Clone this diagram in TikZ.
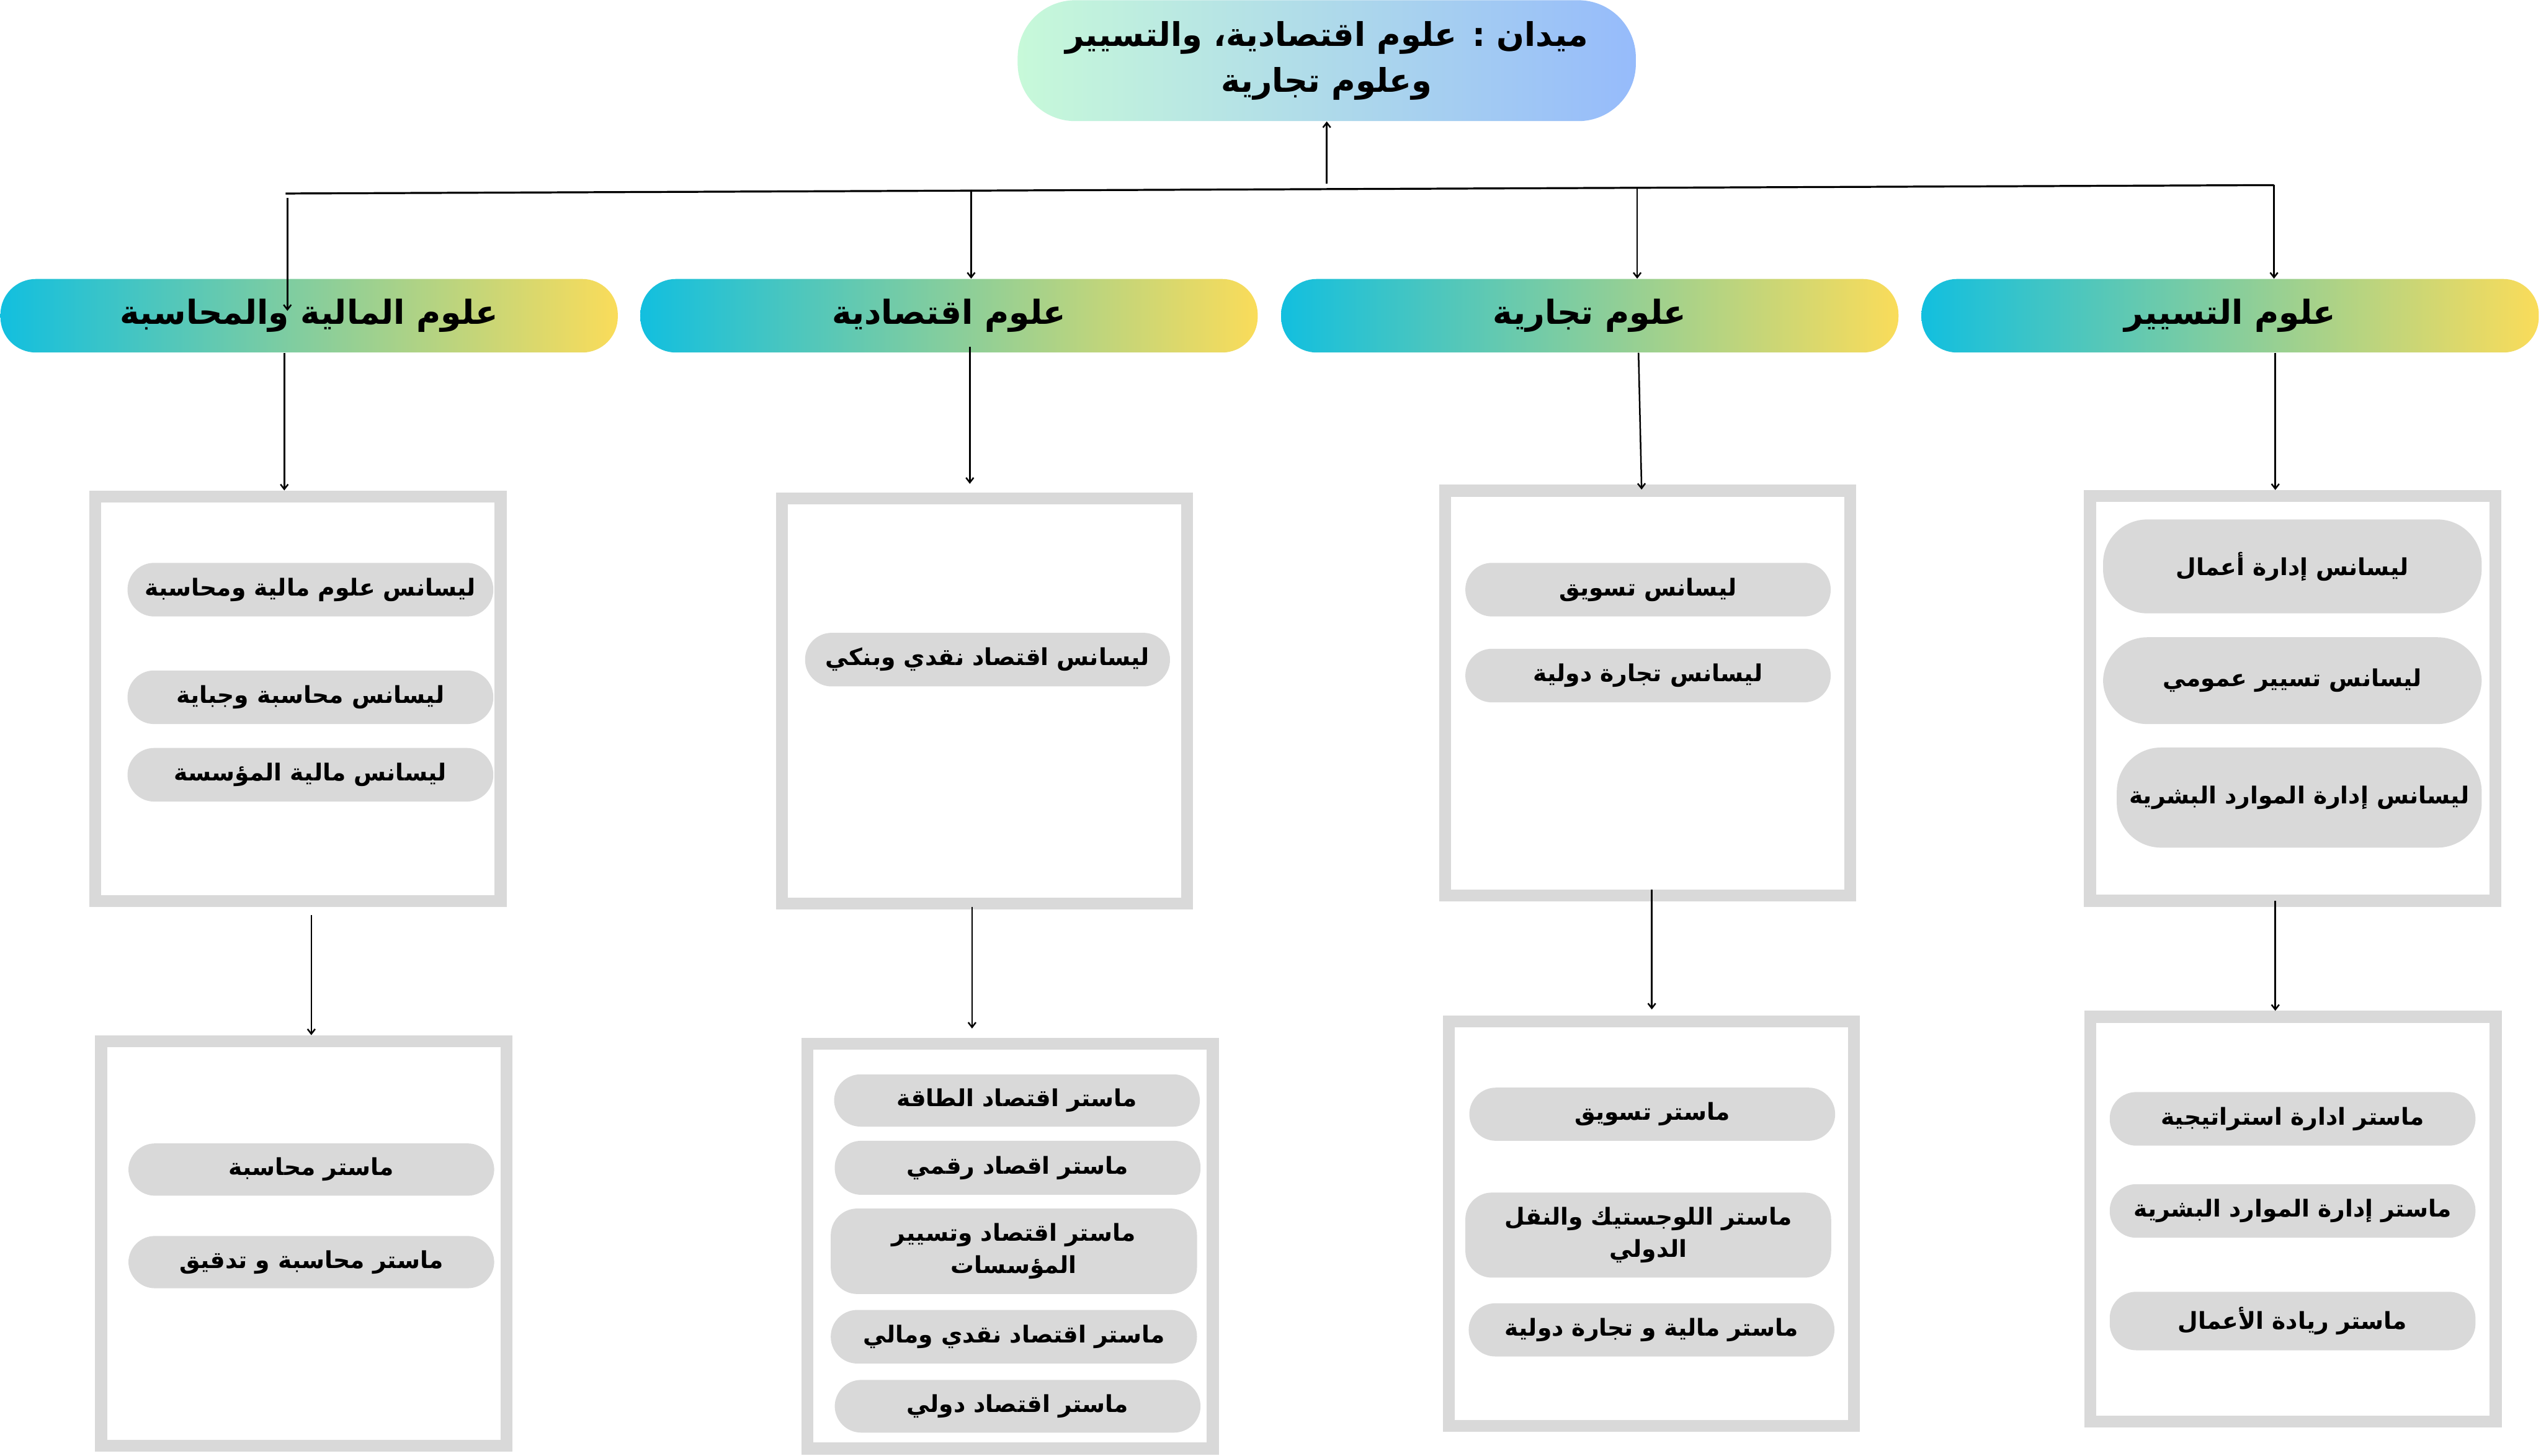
\documentclass[tikz,border=0pt]{standalone}
\usepackage{fontspec}
\usepackage{xcolor}
\newfontfamily\arabicfont[Script=Arabic]{DejaVu Sans}
\TeXXeTstate=1
\usetikzlibrary{arrows.meta,positioning,calc}

\definecolor{mintL}{HTML}{C7F9D9}
\definecolor{blueR}{HTML}{96BBFB}
\definecolor{cyanL}{HTML}{12BFDF}
\definecolor{yellowR}{HTML}{FADC5A}
\definecolor{frameGray}{HTML}{D9D9D9}

\newcommand{\artext}[1]{\beginR #1\endR}

\begin{document}
\begin{tikzpicture}[
        >={Straight Barb[length=0.11cm,width=0.17cm]},
        % top field and the four branch headers
        field_node/.style={rounded corners=1.3cm, left color=mintL, right color=blueR, minimum width=13.96cm, minimum height=2.73cm, align=center, font=\arabicfont\bfseries\fontsize{21}{29.5}\selectfont},
        branch_node/.style={rounded corners=0.8cm, left color=cyanL, right color=yellowR, minimum width=13.94cm, minimum height=1.66cm, font=\arabicfont\bfseries\fontsize{21.3}{25}\selectfont},
        % grey frames and the programme pills inside them
        frame_box/.style={draw=frameGray, fill=white, line width=0.27cm, minimum width=9.15cm, minimum height=9.14cm},
        item_node/.style={fill=frameGray, rounded corners=0.6cm, minimum width=8.26cm, minimum height=1.2cm, align=center, font=\arabicfont\bfseries\fontsize{15}{20.5}\selectfont},
        big_item/.style={item_node, rounded corners=1.0cm},
        arrow/.style={->, line width=0.035cm, draw=black},
        bus_line/.style={line width=0.045cm, draw=black}
    ]

    \fill[white] (0,0) rectangle (57.38,-32.87);
    \useasboundingbox (0,0) rectangle (57.38,-32.87);

    % ==========================================
    % 1. Field and branches
    % ==========================================
    \node[field_node] (field) at (29.96,-1.37) {\artext{ميدان : علوم اقتصادية، والتسيير}\\\artext{وعلوم تجارية}};

    \node[branch_node] (fin) at (6.98,-7.13) {\artext{علوم المالية والمحاسبة}};
    \node[branch_node] (eco) at (21.43,-7.13) {\artext{علوم اقتصادية}};
    \node[branch_node] (com) at (35.90,-7.13) {\artext{علوم تجارية}};
    \node[branch_node] (mgt) at (50.36,-7.13) {\artext{علوم التسيير}};

    % ==========================================
    % 2. Licence frames (upper row)
    % ==========================================
    \node[frame_box] (fin_lic) at (6.73,-15.78) {};
    \node[frame_box] (eco_lic) at (22.23,-15.83) {};
    \node[frame_box] (com_lic) at (37.21,-15.65) {};
    \node[frame_box] (mgt_lic) at (51.77,-15.77) {};

    \node[item_node, minimum height=1.21cm] (fin_l1) at (7.01,-13.315) {\artext{ليسانس علوم مالية ومحاسبة}};
    \node[item_node, minimum height=1.21cm] (fin_l2) at (7.01,-15.745) {\artext{ليسانس محاسبة وجباية}};
    \node[item_node, minimum height=1.21cm] (fin_l3) at (7.01,-17.495) {\artext{ليسانس مالية المؤسسة}};

    \node[item_node, minimum width=8.24cm, minimum height=1.21cm] (eco_l1) at (22.30,-14.895) {\artext{ليسانس اقتصاد نقدي وبنكي}};

    \node[item_node, minimum width=8.25cm, minimum height=1.21cm] (com_l1) at (37.215,-13.315) {\artext{ليسانس تسويق}};
    \node[item_node, minimum width=8.25cm, minimum height=1.21cm] (com_l2) at (37.215,-15.255) {\artext{ليسانس تجارة دولية}};

    \node[big_item, minimum width=8.55cm, minimum height=2.12cm] (mgt_l1) at (51.765,-12.79) {\artext{ليسانس إدارة أعمال}};
    \node[big_item, minimum width=8.55cm, minimum height=1.96cm] (mgt_l2) at (51.765,-15.37) {\artext{ليسانس تسيير عمومي}};
    \node[big_item, minimum width=8.24cm, minimum height=2.26cm] (mgt_l3) at (51.92,-18.01) {\artext{ليسانس إدارة الموارد البشرية}};

    % ==========================================
    % 3. Master frames (lower row)
    % ==========================================
    \node[frame_box] (fin_mas) at (6.86,-28.08) {};
    \node[frame_box] (eco_mas) at (22.81,-28.14) {};
    \node[frame_box] (com_mas) at (37.29,-27.63) {};
    \node[frame_box] (mgt_mas) at (51.78,-27.53) {};

    \node[item_node, minimum height=1.18cm] (fin_m1) at (7.03,-26.41) {\artext{ماستر محاسبة}};
    \node[item_node, minimum height=1.18cm] (fin_m2) at (7.03,-28.50) {\artext{ماستر محاسبة و تدقيق}};

    \node[item_node, minimum height=1.18cm] (eco_m1) at (22.965,-24.85) {\artext{ماستر اقتصاد الطاقة}};
    \node[item_node, minimum height=1.22cm] (eco_m2) at (22.98,-26.37) {\artext{ماستر اقصاد رقمي}};
    \node[item_node, minimum width=8.27cm, minimum height=1.93cm] (eco_m3) at (22.895,-28.255) {\artext{ماستر اقتصاد وتسيير}\\\artext{المؤسسات}};
    \node[item_node, minimum width=8.27cm, minimum height=1.21cm] (eco_m4) at (22.895,-30.185) {\artext{ماستر اقتصاد نقدي ومالي}};
    \node[item_node, minimum height=1.19cm] (eco_m5) at (22.98,-31.755) {\artext{ماستر اقتصاد دولي}};

    \node[item_node] (com_m1) at (37.31,-25.16) {\artext{ماستر تسويق}};
    \node[item_node, minimum height=1.92cm] (com_m2) at (37.22,-27.89) {\artext{ماستر اللوجستيك والنقل}\\\artext{الدولي}};
    \node[item_node] (com_m3) at (37.295,-30.03) {\artext{ماستر مالية و تجارة دولية}};

    \node[item_node, minimum height=1.21cm] (mgt_m1) at (51.77,-25.265) {\artext{ماستر ادارة استراتيجية}};
    \node[item_node, minimum height=1.21cm] (mgt_m2) at (51.77,-27.345) {\artext{ماستر إدارة الموارد البشرية}};
    \node[item_node, minimum height=1.32cm] (mgt_m3) at (51.77,-29.83) {\artext{ماستر ريادة الأعمال}};

    % ==========================================
    % 4. Connectors
    % ==========================================
    \coordinate (bus_l) at (6.45,-4.37);
    \coordinate (bus_r) at (51.35,-4.18);
    \coordinate (bus_up) at (29.96,-4.15);
    \coordinate (tap_fin) at (6.49,-4.47);
    \coordinate (tap_eco) at (21.93,-4.28);
    \coordinate (tap_com) at (36.97,-4.22);
    \coordinate (tap_mgt) at (51.35,-4.18);

    \draw[bus_line] (bus_l) -- (bus_r);
    \draw[arrow] (bus_up) -- (field.south);

    \draw[arrow] (tap_fin) -- ($(tap_fin |- fin.center)+(0,0.11)$);
    \draw[arrow] (tap_eco) -- (tap_eco |- eco.north);
    \draw[arrow] (tap_com) -- (tap_com |- com.north);
    \draw[arrow] (tap_mgt) -- (tap_mgt |- mgt.north);

    % --- branches down to the licence frames ---
    \coordinate (fin_drop) at ($(fin.south)+(-0.56,0)$);
    \coordinate (eco_drop) at ($(eco.south)+(0.47,0.13)$);
    \coordinate (com_drop) at ($(com.south)+(1.10,0)$);
    \coordinate (mgt_drop) at ($(mgt.south)+(1.02,0)$);

    \draw[arrow] (fin_drop) -- (fin_drop |- fin_lic.north);
    \draw[arrow, shorten >=0.2cm] (eco_drop) -- (eco_drop |- eco_lic.north);
    \draw[arrow] (com_drop) -- ($(com_lic.north)+(-0.14,-0.11)$);
    \draw[arrow] (mgt_drop) -- (mgt_drop |- mgt_lic.north);

    % --- licence frames down to the master frames ---
    \coordinate (fin_link) at ($(fin_lic.south)+(0.30,-0.18)$);
    \coordinate (eco_link) at ($(eco_lic.south)+(-0.28,0.06)$);
    \coordinate (com_link) at ($(com_lic.south)+(0.09,0.27)$);
    \coordinate (mgt_link) at ($(mgt_lic.south)+(-0.39,0.13)$);

    \draw[arrow] (fin_link) -- (fin_link |- fin_mas.north);
    \draw[arrow, shorten >=0.21cm] (eco_link) -- (eco_link |- eco_mas.north);
    \draw[arrow, shorten >=0.13cm] (com_link) -- (com_link |- com_mas.north);
    \draw[arrow] (mgt_link) -- (mgt_link |- mgt_mas.north);

\end{tikzpicture}
\end{document}
